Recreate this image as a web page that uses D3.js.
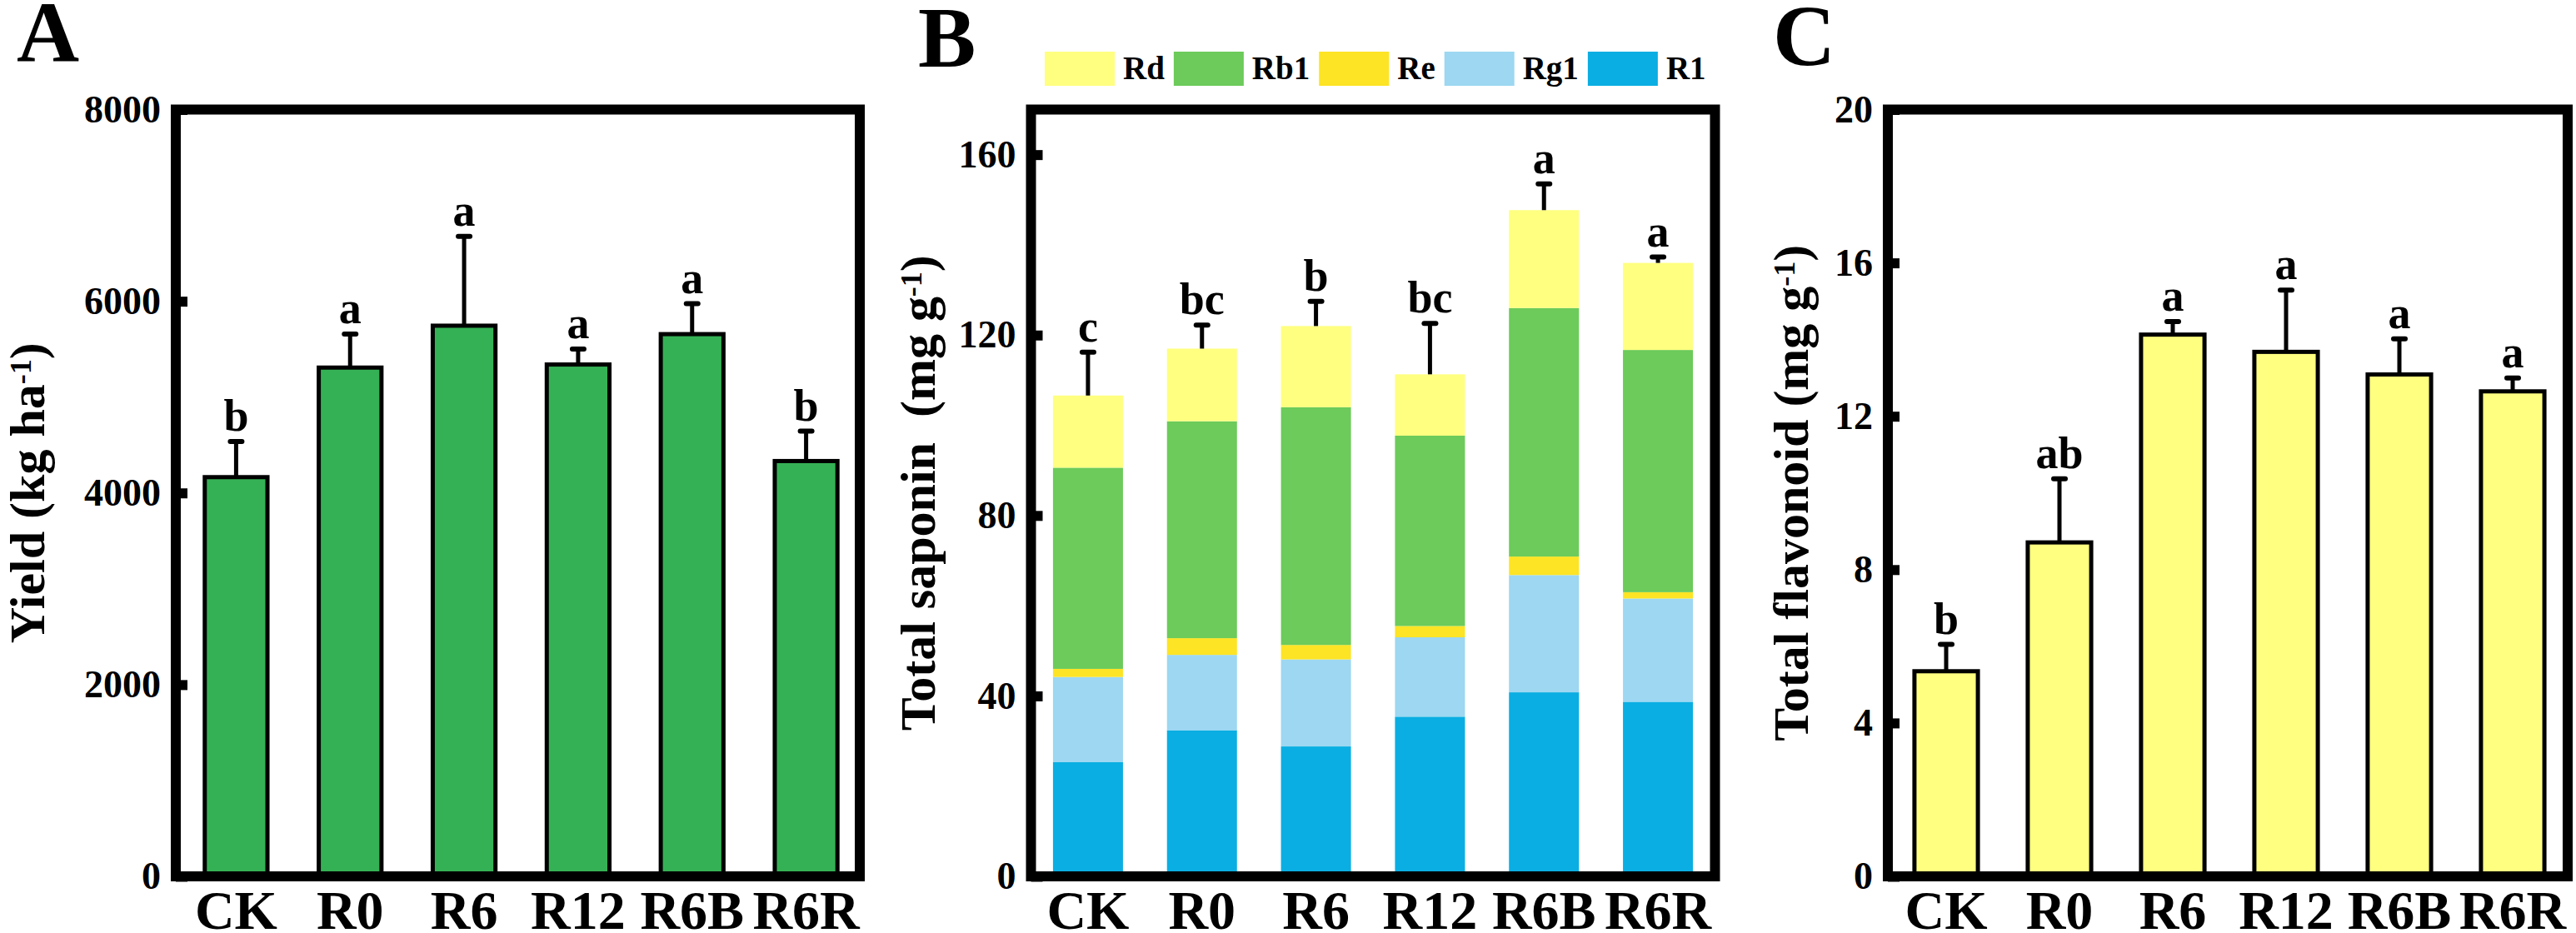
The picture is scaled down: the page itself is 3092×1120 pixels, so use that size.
<!DOCTYPE html>
<html lang="en">
<head>
<meta charset="UTF-8">
<script src="https://d3js.org/d3.v7.min.js"></script>
<style>
  body { margin: 0; background: #fff; }
  text { font-family: "Liberation Serif", "Times New Roman", serif; font-weight: bold; fill: #000; }
</style>
<title>Yield, saponin and flavonoid</title>
</head>
<body>
<div class="canvas"></div>
<script>
const groups = ['CK', 'R0', 'R6', 'R12', 'R6B', 'R6R']

// A: yield
const yieldMean = [4165, 5308, 5745, 5340, 5657, 4333]
const yieldErr = [371, 349, 931, 162, 318, 312]
const yieldSig = ['b', 'a', 'a', 'a', 'a', 'b']
const yieldTicks = [0, 2000, 4000, 6000, 8000]

// B: saponin components (stacked bottom to top: R1, Rg1, Re, Rb1, Rd)
const r1 = [25.3, 32.4, 28.8, 35.4, 40.8, 38.7]
const rg1 = [18.9, 16.7, 19.3, 17.6, 26.0, 22.9]
const re = [1.8, 3.7, 3.2, 2.5, 4.1, 1.4]
const rb1 = [44.6, 48.1, 52.7, 42.2, 55.1, 53.7]
const rd = [16.0, 16.1, 18.0, 13.6, 21.7, 19.3]
const saponinErr = [9.6, 5.2, 5.5, 11.3, 5.8, 1.3]
const saponinSig = ['c', 'bc', 'b', 'bc', 'a', 'a']
const saponinTicks = [0, 40, 80, 120, 160]
const legendKeys = ['Rd', 'Rb1', 'Re', 'Rg1', 'R1']

// C: flavonoid
const flavMean = [5.35, 8.71, 14.13, 13.68, 13.09, 12.65]
const flavErr = [0.70, 1.66, 0.34, 1.61, 0.93, 0.35]
const flavSig = ['b', 'ab', 'a', 'a', 'a', 'a']
const flavTicks = [0, 4, 8, 12, 16, 20]

const colors = { Rd: '#ffff80', Rb1: '#6ccb5a', Re: '#fde424', Rg1: '#9dd7f1', R1: '#0aaee2' }

const W = 3092, H = 1120
const yTop = 131.5, yBot = 1052
const frameW = 12

const svg = d3.select('.canvas').append('svg')
  .attr('width', W).attr('height', H)

function panel(opt) {
  const g = svg.append('g')
  const x = d3.scaleBand()
    .domain(groups)
    .range([opt.x0 + opt.shift, opt.x1 + opt.shift])
    .paddingInner(opt.pad)
    .paddingOuter(opt.pad / 2)
  const y = d3.scaleLinear().domain([0, opt.max]).range([yBot, yTop])

  opt.draw(g, x, y)

  // error bars + letters
  const tops = opt.tops
  const eb = g.append('g')
  groups.forEach((k, i) => {
    const cx = x(k) + x.bandwidth() / 2
    const yc = y(tops[i] + opt.err[i])
    eb.append('line')
      .attr('x1', cx).attr('x2', cx)
      .attr('y1', y(tops[i])).attr('y2', yc)
      .attr('stroke', '#000').attr('stroke-width', 5)
    eb.append('line')
      .attr('x1', cx - 7).attr('x2', cx + 7)
      .attr('y1', yc).attr('y2', yc)
      .attr('stroke', '#000').attr('stroke-width', 6)
      .attr('stroke-linecap', 'round')
    eb.append('text')
      .attr('x', cx).attr('y', yc - 13)
      .attr('text-anchor', 'middle')
      .style('font-size', '54px')
      .text(opt.sig[i])
  })

  // frame
  g.append('rect')
    .attr('x', opt.x0).attr('y', yTop)
    .attr('width', opt.x1 - opt.x0).attr('height', yBot - yTop)
    .attr('fill', 'none').attr('stroke', '#000').attr('stroke-width', frameW)

  // y axis, ticks pointing inward
  const yAxisG = g.append('g').attr('transform', `translate(${opt.x0},0)`)
    .call(d3.axisLeft(y).tickValues(opt.ticks).tickFormat(d3.format('d'))
      .tickSize(-14).tickPadding(18))
  yAxisG.select('.domain').remove()
  yAxisG.selectAll('.tick line').attr('stroke', '#000').attr('stroke-width', frameW)
  yAxisG.selectAll('.tick text')
    .attr('font-family', null).attr('font-size', null)
    .style('font-size', '46px')

  // x axis labels
  const xAxisG = g.append('g').attr('transform', `translate(0,${yBot})`)
    .call(d3.axisBottom(x).tickSize(0))
  xAxisG.select('.domain').remove()
  xAxisG.selectAll('.tick text')
    .attr('font-family', null).attr('font-size', null)
    .attr('dy', null).attr('y', 63)
    .style('font-size', '66px')

  // y title
  const t = g.append('text')
    .attr('transform', `translate(${opt.titleX},${(yTop + yBot) / 2}) rotate(-90)`)
    .attr('text-anchor', 'middle')
    .style('font-size', '60px')
    .style('white-space', 'pre')
  t.append('tspan').text(opt.title)
  t.append('tspan').attr('dy', '-0.45em').style('font-size', '36px').text('-1')
  t.append('tspan').attr('dy', '0.27em').text(')')

  // panel letter
  g.append('text')
    .attr('x', opt.letterX).attr('y', opt.letterY)
    .style('font-size', '104px')
    .text(opt.letter)
}

// A
panel({
  x0: 211, x1: 1032, shift: 4, pad: 0.45, max: 8000, ticks: yieldTicks,
  tops: yieldMean, err: yieldErr, sig: yieldSig,
  title: 'Yield (kg ha', titleX: 53, letter: 'A', letterX: 20, letterY: 74,
  draw: (g, x, y) => {
    g.selectAll('rect.bar').data(yieldMean).enter().append('rect')
      .attr('class', 'bar')
      .attr('x', (d, i) => x(groups[i]))
      .attr('width', x.bandwidth())
      .attr('y', d => y(d))
      .attr('height', d => yBot - y(d))
      .attr('fill', '#35b155').attr('stroke', '#000').attr('stroke-width', 5)
  }
})

// B
const stackData = groups.map((k, i) => ({ R1: r1[i], Rg1: rg1[i], Re: re[i], Rb1: rb1[i], Rd: rd[i] }))
const series = d3.stack().keys(['R1', 'Rg1', 'Re', 'Rb1', 'Rd'])(stackData)
const saponinTotal = stackData.map(d => d.R1 + d.Rg1 + d.Re + d.Rb1 + d.Rd)

panel({
  x0: 1237.5, x1: 2058.5, shift: 0, pad: 0.386, max: 170, ticks: saponinTicks,
  tops: saponinTotal, err: saponinErr, sig: saponinSig,
  title: 'Total saponin  (mg g', titleX: 1122, letter: 'B', letterX: 1102, letterY: 80,
  draw: (g, x, y) => {
    g.selectAll('g.layer').data(series).enter().append('g')
      .attr('class', 'layer')
      .attr('fill', s => colors[s.key])
      .selectAll('rect').data(s => s).enter().append('rect')
      .attr('x', (d, i) => x(groups[i]))
      .attr('width', x.bandwidth())
      .attr('y', d => y(d[1]))
      .attr('height', d => y(d[0]) - y(d[1]))
  }
})

// legend for B
const leg = svg.append('g')
let lx = 1254
legendKeys.forEach(k => {
  leg.append('rect').attr('x', lx).attr('y', 62).attr('width', 84).attr('height', 41)
    .attr('fill', colors[k])
  const tx = leg.append('text').attr('x', lx + 94).attr('y', 95)
    .style('font-size', '39px').text(k)
  lx = lx + 94 + tx.node().getComputedTextLength() + 11
})

// C
panel({
  x0: 2266, x1: 3082, shift: 2, pad: 0.44, max: 20, ticks: flavTicks,
  tops: flavMean, err: flavErr, sig: flavSig,
  title: 'Total flavonoid (mg g', titleX: 2170, letter: 'C', letterX: 2128, letterY: 78,
  draw: (g, x, y) => {
    g.selectAll('rect.bar').data(flavMean).enter().append('rect')
      .attr('class', 'bar')
      .attr('x', (d, i) => x(groups[i]))
      .attr('width', x.bandwidth())
      .attr('y', d => y(d))
      .attr('height', d => yBot - y(d))
      .attr('fill', '#ffff80').attr('stroke', '#000').attr('stroke-width', 5)
  }
})
</script>
</body>
</html>
